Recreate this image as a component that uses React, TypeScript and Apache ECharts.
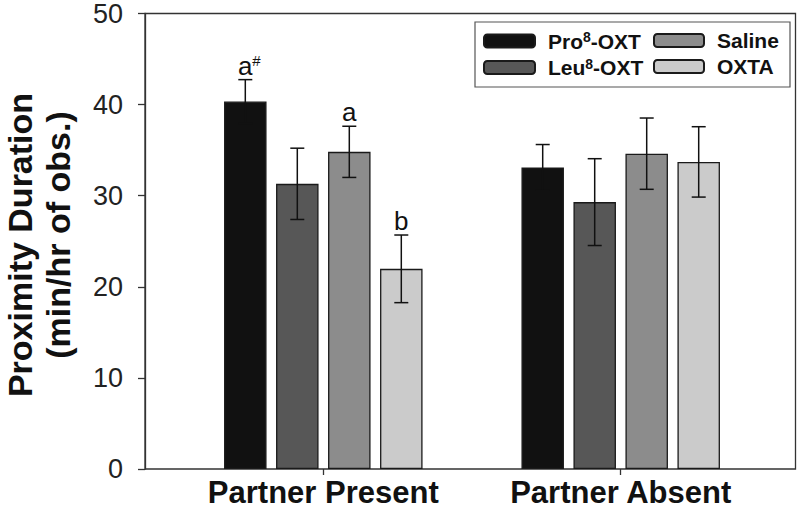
import React, { useEffect, useRef } from "react";
import * as echarts from "echarts";

const categories = ["Partner Present", "Partner Absent"];
const seriesNames = ["Pro8-OXT", "Leu8-OXT", "Saline", "OXTA"];
const pro8Values = [40.2, 33.0];
const leu8Values = [31.2, 29.2];
const salineValues = [34.7, 34.5];
const oxtaValues = [21.9, 33.6];
const pro8Err = [2.4, 2.5];
const leu8Err = [3.9, 4.75];
const salineErr = [2.8, 3.9];
const oxtaErr = [3.7, 3.85];
const annotMain = [["a", ""], ["", ""], ["a", ""], ["b", ""]];
const annotSup = [["#", ""], ["", ""], ["", ""], ["", ""]];
const yTicks = [0, 10, 20, 30, 40, 50];

const colors = ["#111111", "#575757", "#8c8c8c", "#cbcbcb"];
const FONT = "'Liberation Sans', Arial, Helvetica, sans-serif";
const BAR_W = 42.5;
const PITCH = 52;

export default function App() {
  const ref = useRef<HTMLDivElement>(null);
  useEffect(() => {
    if (!ref.current) return;
    const chart = echarts.init(ref.current, null, { renderer: "svg" });
    const values = [pro8Values, leu8Values, salineValues, oxtaValues];
    const errs = [pro8Err, leu8Err, salineErr, oxtaErr];
    const errData: any[] = [];
    values.forEach((vals, si) => {
      vals.forEach((v, ci) => {
        errData.push([ci, v, errs[si][ci], si]);
      });
    });
    const supMap: Record<string, string> = {
      "Pro8-OXT": "{n|Pro}{s|8}{n|-OXT}",
      "Leu8-OXT": "{n|Leu}{s|8}{n|-OXT}",
      Saline: "{n|Saline}",
      OXTA: "{n|OXTA}",
    };
    const legendText = {
      fontFamily: FONT,
      padding: [0, 0, 0, 8],
      rich: {
        n: { fontSize: 21, fontWeight: "bold", fontFamily: FONT, color: "#111", lineHeight: 22 },
        s: { fontSize: 14, fontWeight: "bold", fontFamily: FONT, color: "#111", verticalAlign: "top", lineHeight: 14 },
      },
    };
    const option: any = {
      animation: false,
      backgroundColor: "#ffffff",
      grid: [
        { left: 145, top: 12, right: 4.5, bottom: 42, show: true, borderColor: "#333", borderWidth: 1.3, backgroundColor: "transparent" },
        { left: 174.6, top: 12, width: 594.8, bottom: 42, show: false },
      ],
      xAxis: [
        { type: "value", gridIndex: 0, min: 0, max: 1, show: false },
        {
          type: "category",
          gridIndex: 1,
          data: categories,
          axisLine: { show: false },
          axisTick: { show: true, alignWithLabel: true, length: 6, lineStyle: { color: "#333", width: 1.3 } },
          axisLabel: { interval: 0, fontSize: 31, lineHeight: 28, fontWeight: "bold", fontFamily: FONT, color: "#111", margin: 9 },
          splitLine: { show: false },
        },
      ],
      yAxis: [
        {
          type: "value",
          gridIndex: 0,
          min: 0,
          max: 50,
          interval: 10,
          axisLine: { show: true, lineStyle: { color: "#333", width: 1.3 } },
          axisTick: { show: true, length: 7, lineStyle: { color: "#333", width: 1.3 } },
          axisLabel: { fontSize: 27, fontFamily: FONT, color: "#222", margin: 22, formatter: (v: number) => (yTicks.includes(v) ? String(v) : "") },
          splitLine: { show: false },
        },
        { type: "value", gridIndex: 1, min: 0, max: 50, interval: 10, show: false },
      ],
      legend: [
        {
          data: [seriesNames[0], seriesNames[1]],
          orient: "vertical",
          left: 483,
          top: 30,
          padding: 0,
          itemGap: 5,
          itemWidth: 51,
          itemHeight: 13,
          formatter: (name: string) => supMap[name],
          textStyle: legendText,
          selectedMode: false,
        },
        {
          data: [seriesNames[2], seriesNames[3]],
          orient: "vertical",
          left: 653,
          top: 30,
          padding: 0,
          itemGap: 5,
          itemWidth: 50,
          itemHeight: 13,
          formatter: (name: string) => supMap[name],
          textStyle: legendText,
          selectedMode: false,
        },
      ],
      graphic: [
        {
          type: "rect",
          shape: { x: 475, y: 22, width: 315, height: 65 },
          style: { fill: "none", stroke: "#555", lineWidth: 1.2 },
          z: 10,
        },
        {
          type: "text",
          x: 19.5,
          y: 245,
          rotation: Math.PI / 2,
          style: { text: "Proximity Duration", font: `bold 34px ${FONT}`, lineHeight: 30, fill: "#111", align: "center", verticalAlign: "middle" },
        },
        {
          type: "text",
          x: 58,
          y: 235,
          rotation: Math.PI / 2,
          style: { text: "(min/hr of obs.)", font: `bold 34px ${FONT}`, lineHeight: 30, fill: "#111", align: "center", verticalAlign: "middle" },
        },
      ],
      series: [
        ...seriesNames.map((name, si) => ({
          name,
          type: "bar",
          xAxisIndex: 1,
          yAxisIndex: 1,
          data: values[si],
          barWidth: BAR_W,
          barGap: `${((PITCH - BAR_W) / BAR_W) * 100}%`,
          itemStyle: { color: colors[si], borderColor: "#1a1a1a", borderWidth: 1.3 },
          emphasis: { disabled: true },
        })),
        {
          type: "custom",
          name: "err",
          xAxisIndex: 1,
          yAxisIndex: 1,
          data: errData,
          encode: { x: 0, y: 1 },
          z: 5,
          silent: true,
          renderItem: (params: any, api: any) => {
            const ci = api.value(0);
            const m = api.value(1);
            const e = api.value(2);
            const si = api.value(3);
            const c = api.coord([ci, m]);
            const x = c[0] + (si - 1.5) * PITCH;
            const top = api.coord([ci, m + e])[1];
            const bot = api.coord([ci, m - e])[1];
            const ls = { stroke: "#111111", lineWidth: 1.5 };
            const children: any[] = [
              { type: "line", shape: { x1: x, y1: top, x2: x, y2: bot }, style: ls },
              { type: "line", shape: { x1: x - 7, y1: top, x2: x + 7, y2: top }, style: ls },
              { type: "line", shape: { x1: x - 7, y1: bot, x2: x + 7, y2: bot }, style: ls },
            ];
            const main = annotMain[si][ci];
            if (main) {
              children.push({
                type: "text",
                x,
                y: top - 1,
                style: { text: main, font: `26px ${FONT}`, fill: "#111", align: "center", verticalAlign: "bottom" },
              });
            }
            const sup = annotSup[si][ci];
            if (sup) {
              children.push({
                type: "text",
                x: x + 7,
                y: top - 27,
                style: { text: sup, font: `15px ${FONT}`, fill: "#111", align: "left", verticalAlign: "top" },
              });
            }
            return { type: "group", children };
          },
        },
      ],
    };
    chart.setOption(option);
    return () => chart.dispose();
  }, []);
  return <div ref={ref} style={{ position: "fixed", left: 0, top: 0, width: 800, height: 511 }} />;
}
